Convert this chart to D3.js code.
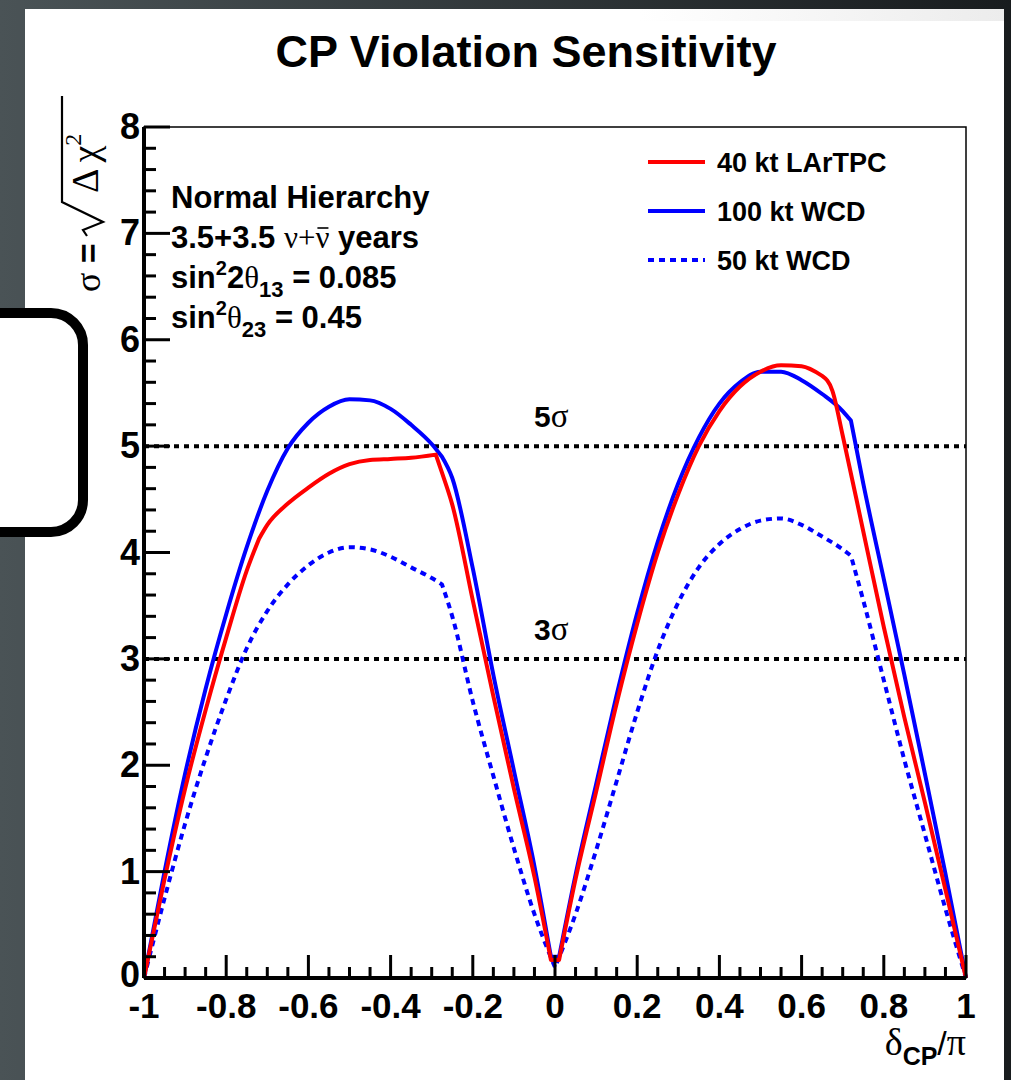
<!DOCTYPE html>
<html>
<head>
<meta charset="utf-8">
<script src="https://cdn.jsdelivr.net/npm/d3@7"></script>
<style>
body{margin:0;background:#2a3033;}
svg{display:block;}
.bold{font-family:"Liberation Sans",Arial,sans-serif;font-weight:bold;}
.plain{font-family:"Liberation Sans",Arial,sans-serif;font-weight:normal;}
.greek{font-family:"Liberation Serif","DejaVu Serif",serif;font-weight:normal;}
</style>
</head>
<body>
<svg id="chart"></svg>
<script>
//values: delta_CP/pi and sigma
var larX   = [-1,-0.95,-0.9,-0.85,-0.8,-0.75,-0.72,-0.7,-0.65,-0.6,-0.55,-0.5,-0.45,-0.4,-0.35,-0.29,-0.275,-0.25,-0.2,-0.15,-0.1,-0.05,-0.01,0.01,
              0.05,0.1,0.15,0.2,0.25,0.3,0.35,0.4,0.45,0.5,0.55,0.6,0.65,0.675,0.7,0.75,0.8,0.85,0.9,0.95,1]
var larSig = [0,0.93,1.78,2.52,3.2,3.83,4.13,4.26,4.46,4.61,4.74,4.83,4.87,4.88,4.89,4.92,4.75,4.45,3.55,2.65,1.78,0.95,0.17,0.17,
              0.93,1.75,2.58,3.33,4.0,4.55,5.0,5.33,5.56,5.7,5.76,5.75,5.66,5.52,5.1,4.2,3.3,2.45,1.65,0.83,0]
var larBreaks = [-0.72,-0.29,-0.01,0.01,0.65]

var wcd100X   = [-1,-0.95,-0.9,-0.85,-0.8,-0.75,-0.7,-0.65,-0.6,-0.55,-0.5,-0.45,-0.4,-0.35,-0.3,-0.275,-0.25,-0.2,-0.15,-0.1,-0.05,-0.01,0.01,
                 0.05,0.1,0.15,0.2,0.25,0.3,0.35,0.4,0.45,0.5,0.55,0.6,0.65,0.7,0.72,0.75,0.8,0.85,0.9,0.95,1]
var wcd100Sig = [0,1.0,1.92,2.72,3.42,4.05,4.58,4.98,5.22,5.37,5.44,5.43,5.35,5.2,5.02,4.9,4.7,3.85,2.85,1.95,1.05,0.2,0.2,
                 0.97,1.82,2.66,3.43,4.1,4.65,5.08,5.4,5.6,5.7,5.7,5.62,5.49,5.33,5.24,4.65,3.75,2.85,1.92,0.98,0]
var wcd100Breaks = [-0.275,-0.01,0.01,0.72]

var wcd50X   = [-1,-0.95,-0.9,-0.85,-0.8,-0.75,-0.7,-0.65,-0.6,-0.55,-0.5,-0.45,-0.4,-0.35,-0.3,-0.275,-0.25,-0.2,-0.15,-0.1,-0.05,0,
                0.05,0.1,0.15,0.2,0.25,0.3,0.35,0.4,0.45,0.5,0.55,0.6,0.65,0.7,0.72,0.75,0.8,0.85,0.9,0.95,1]
var wcd50Sig = [0,0.75,1.45,2.07,2.62,3.1,3.45,3.7,3.88,4.0,4.05,4.03,3.96,3.86,3.76,3.7,3.4,2.6,1.9,1.22,0.6,0.1,
                0.6,1.2,1.85,2.5,3.08,3.53,3.86,4.08,4.22,4.3,4.32,4.26,4.15,4.03,3.97,3.55,2.8,2.05,1.35,0.65,0]
var wcd50Breaks = [-0.275,0,0.72]

var xTickValues = [-1,-0.8,-0.6,-0.4,-0.2,0,0.2,0.4,0.6,0.8,1]
var xTickLabels = ["-1","-0.8","-0.6","-0.4","-0.2","0","0.2","0.4","0.6","0.8","1"]
var yTickValues = [0,1,2,3,4,5,6,7,8]
var sigmaLevels = [5,3]
var legendLabels = ["40 kt LArTPC","100 kt WCD","50 kt WCD"]

var makeTranslateString = function(x,y)
{
    return "translate("+x+","+y+")";
}

var zip = function(xs,ys)
{
    return xs.map(function(x,i){ return {x:x, y:ys[i]}; });
}

var series = [
    {name:legendLabels[0], points:zip(larX,larSig), breaks:larBreaks, color:"#ff0000", dash:null},
    {name:legendLabels[1], points:zip(wcd100X,wcd100Sig), breaks:wcd100Breaks, color:"#0000ff", dash:null},
    {name:legendLabels[2], points:zip(wcd50X,wcd50Sig), breaks:wcd50Breaks, color:"#0000ff", dash:"6,5"}
]

var drawBackground = function(svg)
{
    var defs = svg.append("defs")
    var bg = defs.append("linearGradient").attr("id","bgGrad")
    bg.append("stop").attr("offset","0%").attr("stop-color","#4a5356")
    bg.append("stop").attr("offset","100%").attr("stop-color","#181c1e")
    var top = defs.append("linearGradient").attr("id","topGrad")
    top.append("stop").attr("offset","0%").attr("stop-color","#ffffff")
    top.append("stop").attr("offset","100%").attr("stop-color","#ececec")

    svg.append("rect").attr("width",1011).attr("height",1080).attr("fill","url(#bgGrad)")
    svg.append("rect").attr("x",25).attr("y",9).attr("width",979).attr("height",1071).attr("fill","#ffffff")
    svg.append("rect").attr("x",640).attr("y",9).attr("width",364).attr("height",12).attr("fill","url(#topGrad)")

    //the rounded bracket of the slide
    svg.append("path")
        .attr("d","M-20,313 H51 A32,32 0 0 1 83,345 V500 A32,32 0 0 1 51,532 H-20")
        .attr("fill","#ffffff")
        .attr("stroke","#000000")
        .attr("stroke-width",10)
}

var drawAxes = function(svg,plot,xScale,yScale)
{
    //frame
    svg.append("rect")
        .attr("x",plot.left).attr("y",plot.top)
        .attr("width",plot.right-plot.left).attr("height",plot.bottom-plot.top)
        .attr("fill","none").attr("stroke","#000").attr("stroke-width",1.5)

    //x ticks, drawn upward from the bottom axis
    var xMinor = d3.range(-1,1.0001,0.05)
    svg.append("g").selectAll("line")
        .data(xMinor)
        .enter()
        .append("line")
        .attr("x1",function(d){ return xScale(d); })
        .attr("x2",function(d){ return xScale(d); })
        .attr("y1",plot.bottom)
        .attr("y2",function(d,i){ return plot.bottom-(i%4==0 ? 23 : 11); })
        .attr("stroke","#000").attr("stroke-width",3)

    //y ticks, drawn right of the left axis
    var yMinor = d3.range(0,8.0001,0.2)
    svg.append("g").selectAll("line")
        .data(yMinor)
        .enter()
        .append("line")
        .attr("y1",function(d){ return yScale(d); })
        .attr("y2",function(d){ return yScale(d); })
        .attr("x1",plot.left)
        .attr("x2",function(d,i){ return plot.left+(i%5==0 ? 26 : 12); })
        .attr("stroke","#000").attr("stroke-width",3)

    svg.append("line")
        .attr("x1",plot.left).attr("x2",plot.right)
        .attr("y1",plot.bottom).attr("y2",plot.bottom)
        .attr("stroke","#000").attr("stroke-width",4)
    svg.append("line")
        .attr("x1",plot.left).attr("x2",plot.left)
        .attr("y1",plot.top).attr("y2",plot.bottom)
        .attr("stroke","#000").attr("stroke-width",4)

    svg.append("g").selectAll("text")
        .data(xTickValues)
        .enter()
        .append("text")
        .classed("bold",true)
        .attr("x",function(d){ return xScale(d); })
        .attr("y",plot.bottom+40)
        .attr("text-anchor","middle")
        .attr("font-size",35)
        .text(function(d,i){ return xTickLabels[i]; })

    svg.append("g").selectAll("text")
        .data(yTickValues)
        .enter()
        .append("text")
        .classed("bold",true)
        .attr("x",plot.left-4)
        .attr("y",function(d){ return yScale(d)+(d==0 ? 9 : 12); })
        .attr("text-anchor","end")
        .attr("font-size",36)
        .text(function(d){ return d; })
}

var drawLabels = function(svg,plot)
{
    svg.append("text")
        .classed("bold",true)
        .attr("x",526).attr("y",67)
        .attr("text-anchor","middle")
        .attr("font-size",45)
        .text("CP Violation Sensitivity")

    //x axis title
    var xt = svg.append("text")
        .attr("x",plot.right).attr("y",1055)
        .attr("text-anchor","end")
    xt.append("tspan").classed("greek",true).attr("font-size",38).text("δ")
    xt.append("tspan").classed("bold",true).attr("font-size",25).attr("dy",10).text("CP")
    xt.append("tspan").classed("plain",true).attr("font-size",34).attr("dy",-10).text("/")
    xt.append("tspan").classed("greek",true).attr("font-size",38).text("π")

    //y axis title: sigma = sqrt(Delta chi^2), written along the rotated axis
    var yt = svg.append("g").attr("transform",makeTranslateString(100,292)+" rotate(-90)")
    var t1 = yt.append("text").attr("x",0).attr("y",0)
    t1.append("tspan").classed("greek",true).attr("font-size",36).text("σ")
    t1.append("tspan").classed("bold",true).attr("font-size",34).text(" =")
    yt.append("path")
        .attr("d","M56,-13 L62,-17 L70,3 L90,-38 L196,-38")
        .attr("fill","none").attr("stroke","#000").attr("stroke-width",2.2)
    var t2 = yt.append("text").attr("x",99).attr("y",-2)
    t2.append("tspan").classed("greek",true).attr("font-size",38).text("Δ")
    t2.append("tspan").classed("greek",true).attr("font-size",38).attr("dx",6).text("χ")
    t2.append("tspan").classed("greek",true).attr("font-size",24).attr("dy",-17).text("2")

    //info block
    var info = svg.append("g").attr("transform",makeTranslateString(171,0))
    info.append("text").classed("bold",true).attr("y",208).attr("font-size",31).text("Normal Hierarchy")

    var l2 = info.append("text").attr("y",248).attr("font-size",31)
    l2.append("tspan").classed("bold",true).text("3.5+3.5 ")
    l2.append("tspan").classed("greek",true).text("ν+")
    var nubar = l2.append("tspan").classed("greek",true).text("ν")
    l2.append("tspan").classed("bold",true).text(" years")
    //bar over the anti-neutrino
    var n = l2.node()
    var idx = "3.5+3.5 ν+".length
    var x0 = n.getStartPositionOfChar(idx).x
    var x1 = n.getEndPositionOfChar(idx).x
    info.append("line")
        .attr("x1",x0+2).attr("x2",x1-1)
        .attr("y1",228).attr("y2",228)
        .attr("stroke","#000").attr("stroke-width",1.6)

    var l3 = info.append("text").attr("y",288).attr("font-size",31)
    l3.append("tspan").classed("bold",true).text("sin")
    l3.append("tspan").classed("bold",true).attr("font-size",20).attr("dy",-13).text("2")
    l3.append("tspan").classed("bold",true).attr("dy",13).text("2")
    l3.append("tspan").classed("greek",true).text("θ")
    l3.append("tspan").classed("bold",true).attr("font-size",22).attr("dy",9).text("13")
    l3.append("tspan").classed("bold",true).attr("dy",-9).text(" = 0.085")

    var l4 = info.append("text").attr("y",328).attr("font-size",31)
    l4.append("tspan").classed("bold",true).text("sin")
    l4.append("tspan").classed("bold",true).attr("font-size",20).attr("dy",-13).text("2")
    l4.append("tspan").classed("greek",true).attr("dy",13).text("θ")
    l4.append("tspan").classed("bold",true).attr("font-size",22).attr("dy",9).text("23")
    l4.append("tspan").classed("bold",true).attr("dy",-9).text(" = 0.45")
}

var drawSigmaLines = function(svg,plot,yScale)
{
    var g = svg.append("g")
    g.selectAll("line")
        .data(sigmaLevels)
        .enter()
        .append("line")
        .attr("x1",plot.left).attr("x2",plot.right)
        .attr("y1",function(d){ return yScale(d); })
        .attr("y2",function(d){ return yScale(d); })
        .attr("stroke","#000").attr("stroke-width",4)
        .attr("stroke-dasharray","5,5")

    var labels = g.selectAll("text")
        .data(sigmaLevels)
        .enter()
        .append("text")
        .attr("x",534)
        .attr("y",function(d){ return yScale(d)-19; })
    labels.append("tspan").classed("bold",true).attr("font-size",30).text(function(d){ return d; })
    labels.append("tspan").classed("greek",true).attr("font-size",33).text("σ")
}

//split a series at its kinks so each smooth piece is drawn on its own, then join the pieces
var splitAtBreaks = function(points,breaks)
{
    var segs = [[]]
    points.forEach(function(p,i)
    {
        segs[segs.length-1].push(p)
        if(i>0 && i<points.length-1 && breaks.indexOf(p.x)>=0)
        {
            segs.push([p])
        }
    })
    return segs
}

var drawLines = function(svg,xScale,yScale)
{
    var lineGenerator = d3.line()
        .x(function(p){ return xScale(p.x); })
        .y(function(p){ return yScale(p.y); })
        .curve(d3.curveMonotoneX)

    var pathString = function(s)
    {
        return splitAtBreaks(s.points,s.breaks).map(function(seg,i)
        {
            var d = lineGenerator(seg)
            return i==0 ? d : d.replace(/^M[^A-Za-z]*/,"")
        }).join("")
    }

    svg.append("g").selectAll("path")
        .data(series.slice().reverse())
        .enter()
        .append("path")
        .attr("d",pathString)
        .attr("fill","none")
        .attr("stroke",function(s){ return s.color; })
        .attr("stroke-width",4)
        .attr("stroke-linejoin","round")
        .attr("stroke-dasharray",function(s){ return s.dash; })
}

var drawLegend = function(svg)
{
    var rows = svg.append("g").selectAll("g")
        .data(series)
        .enter()
        .append("g")
        .attr("transform",function(s,i){ return makeTranslateString(648,162+i*49); })
    rows.append("line")
        .attr("x1",0).attr("x2",57)
        .attr("stroke",function(s){ return s.color; })
        .attr("stroke-width",4)
        .attr("stroke-dasharray",function(s){ return s.dash; })
    rows.append("text")
        .classed("bold",true)
        .attr("x",69).attr("y",10)
        .attr("font-size",27)
        .text(function(s){ return s.name; })
}

var initGraph = function()
{
    var screen = {width:1011,height:1080}
    var plot = {left:144,right:966,top:127,bottom:978}

    var svg = d3.select("#chart")
        .attr("width",screen.width)
        .attr("height",screen.height)

    var xScale = d3.scaleLinear()
        .domain([-1,1])
        .range([plot.left,plot.right])
    var yScale = d3.scaleLinear()
        .domain([0,8])
        .range([plot.bottom,plot.top])

    drawBackground(svg)
    drawSigmaLines(svg,plot,yScale)
    drawLines(svg,xScale,yScale)
    drawAxes(svg,plot,xScale,yScale)
    drawLabels(svg,plot)
    drawLegend(svg)
}

initGraph()
</script>
</body>
</html>
